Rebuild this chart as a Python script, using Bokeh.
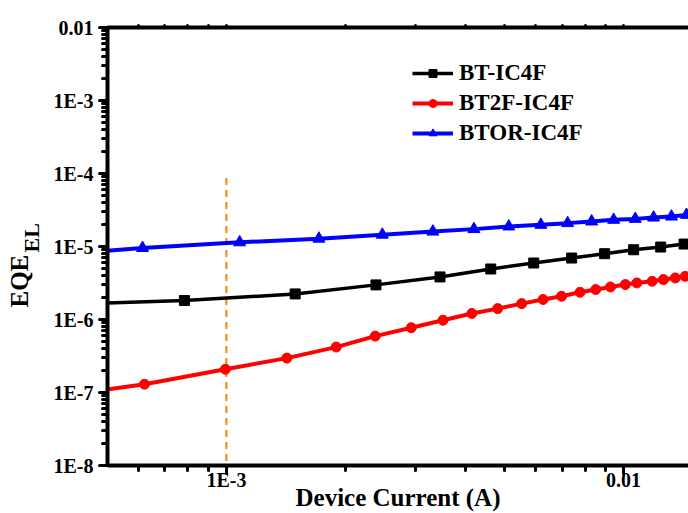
import math
from bokeh.plotting import figure
from bokeh.layouts import row
from bokeh.models import (LogAxis, FixedTicker, CustomJSTickFormatter, Label,
                          Legend, LegendItem, Range1d)
from bokeh.embed import file_html
from bokeh.resources import INLINE

# ---------------- data ----------------
bt_x = [3.9e-4, 7.84e-4, 1.49e-3, 2.38e-3, 3.45e-3, 4.63e-3, 5.94e-3, 7.40e-3,
        8.96e-3, 1.06e-2, 1.24e-2, 1.42e-2]
bt_y = [1.62e-6, 1.82e-6, 2.24e-6, 2.98e-6, 3.83e-6, 4.92e-6, 5.94e-6, 6.95e-6,
        7.96e-6, 9.03e-6, 9.83e-6, 1.08e-5]

bt2f_x = [4.32e-4, 6.22e-4, 9.94e-4, 1.42e-3, 1.89e-3, 2.37e-3, 2.92e-3, 3.51e-3,
          4.15e-3, 4.82e-3, 5.54e-3, 6.27e-3, 6.98e-3, 7.77e-3, 8.51e-3, 9.27e-3,
          1.01e-2, 1.08e-2, 1.18e-2, 1.26e-2, 1.35e-2, 1.43e-2]
bt2f_y = [9.8e-8, 1.30e-7, 2.08e-7, 2.96e-7, 4.19e-7, 5.92e-7, 7.71e-7, 9.78e-7,
          1.21e-6, 1.41e-6, 1.65e-6, 1.88e-6, 2.08e-6, 2.36e-6, 2.57e-6, 2.79e-6,
          3.01e-6, 3.17e-6, 3.34e-6, 3.52e-6, 3.71e-6, 3.90e-6]

btor_x = [3.85e-4, 6.15e-4, 1.08e-3, 1.71e-3, 2.47e-3, 3.31e-3, 4.20e-3, 5.14e-3,
          6.19e-3, 7.23e-3, 8.31e-3, 9.44e-3, 1.07e-2, 1.19e-2, 1.32e-2, 1.44e-2]
btor_y = [7.79e-6, 9.53e-6, 1.14e-5, 1.28e-5, 1.45e-5, 1.60e-5, 1.73e-5, 1.88e-5,
          1.98e-5, 2.09e-5, 2.20e-5, 2.32e-5, 2.39e-5, 2.49e-5, 2.57e-5, 2.71e-5]

series_names = ["BT-IC4F", "BT2F-IC4F", "BTOR-IC4F"]

guide_x = [1e-3, 1e-3]
guide_y = [8.7e-5, 1e-8]

x_ticks = [1e-3, 1e-2]
x_tick_labels = ["1E-3", "0.01"]
y_ticks = [1e-8, 1e-7, 1e-6, 1e-5, 1e-4, 1e-3, 1e-2]
y_tick_labels = ["1E-8", "1E-7", "1E-6", "1E-5", "1E-4", "1E-3", "0.01"]

x_title = "Device Current (A)"
y_title_main = "EQE"
y_title_sub = "EL"

x_lim = (5.02e-4, 1.457e-2)
y_lim = (1e-8, 1e-2)

# ---------------- figure ----------------
FONT = "Liberation Serif"
TITLE_W = 50

p = figure(width=688 - TITLE_W, height=513, x_axis_type="log", y_axis_type="log",
           x_range=Range1d(*x_lim), y_range=Range1d(*y_lim),
           output_backend="svg", toolbar_location=None,
           min_border_left=106 - TITLE_W, min_border_right=0, min_border_top=27,
           min_border_bottom=47)
p.outline_line_color = None
p.background_fill_color = "white"
p.border_fill_color = "white"
p.xgrid.visible = False
p.ygrid.visible = False


def minor_list(lo, hi):
    out = []
    for e in range(math.floor(math.log10(lo)) - 1, math.ceil(math.log10(hi)) + 1):
        for k in range(2, 10):
            out.append(k * 10.0 ** e)
    return out


def fmt(vals, labels):
    return CustomJSTickFormatter(args=dict(tvals=vals, tlabels=labels), code="""
        for (let i = 0; i < tvals.length; i++) {
            if (Math.abs(Math.log10(tvals[i]) - Math.log10(tick)) < 1e-6) return tlabels[i];
        }
        return " ";
    """)


def style_axis(ax):
    ax.axis_line_width = 4
    ax.axis_line_color = "black"
    ax.major_tick_line_width = 3
    ax.minor_tick_line_width = 3
    ax.major_tick_line_cap = "round"
    ax.minor_tick_line_cap = "round"
    ax.major_tick_in = 0
    ax.minor_tick_in = 0
    ax.major_tick_out = 8
    ax.minor_tick_out = 5
    ax.major_label_text_font = FONT
    ax.major_label_text_font_style = "bold"
    ax.major_label_text_font_size = "20px"
    ax.major_label_text_color = "black"


xa = p.xaxis[0]
xa.ticker = FixedTicker(ticks=x_ticks, minor_ticks=minor_list(*x_lim))
xa.formatter = fmt(x_ticks, x_tick_labels)
style_axis(xa)
xa.major_label_standoff = -5
xa.axis_label = x_title
xa.axis_label_text_font = FONT
xa.axis_label_text_font_style = "bold"
xa.axis_label_text_font_size = "25px"
xa.axis_label_text_color = "black"
xa.axis_label_standoff = -10

ya = p.yaxis[0]
ya.ticker = FixedTicker(ticks=y_ticks, minor_ticks=minor_list(*y_lim))
ya.formatter = fmt(y_ticks, y_tick_labels)
style_axis(ya)
ya.major_label_standoff = 6

top = LogAxis(ticker=FixedTicker(ticks=x_ticks, minor_ticks=minor_list(*x_lim)))
style_axis(top)
top.major_tick_out = 2
top.minor_tick_out = 2
top.major_label_text_font_size = "2px"
top.major_label_text_alpha = 0
top.major_label_standoff = 0
p.add_layout(top, "above")

# guide line
p.line(guide_x, guide_y, line_color="#FF8000", line_width=2, line_dash="7 5")

# series
r1l = p.line(bt_x, bt_y, line_color="black", line_width=3.5)
r1m = p.scatter(bt_x, bt_y, marker="square", size=10, fill_color="black",
                line_color="black")
r2l = p.line(bt2f_x, bt2f_y, line_color="#FF0000", line_width=4)
r2m = p.scatter(bt2f_x, bt2f_y, marker="circle", size=10, fill_color="#FF0000",
                line_color="#FF0000")
r3l = p.line(btor_x, btor_y, line_color="#0000FF", line_width=4)
r3m = p.scatter(btor_x, btor_y, marker="triangle", size=12, fill_color="#0000FF",
                line_color="#0000FF")

legend = Legend(items=[
    LegendItem(label=series_names[0], renderers=[r1l, r1m]),
    LegendItem(label=series_names[1], renderers=[r2l, r2m]),
    LegendItem(label=series_names[2], renderers=[r3l, r3m]),
], location=(305, 317))
legend.border_line_color = None
legend.background_fill_alpha = 0
legend.padding = 0
legend.margin = 0
legend.spacing = 0
legend.glyph_width = 41
legend.glyph_height = 20
legend.label_height = 30
legend.label_standoff = 6
legend.label_text_font = FONT
legend.label_text_font_style = "bold"
legend.label_text_font_size = "23px"
legend.label_text_color = "black"
p.add_layout(legend)

# ---------------- y-axis title strip (EQE with subscript EL) ----------------
# (its frame is aligned with the main plot's frame by the row layout)
t = figure(width=TITLE_W, height=513, x_range=Range1d(0, 1), y_range=Range1d(0, 1),
           x_axis_location=None, y_axis_location=None,
           output_backend="svg", toolbar_location=None,
           min_border_left=0, min_border_right=0, min_border_top=0,
           min_border_bottom=0)
t.outline_line_color = None
t.xgrid.visible = False
t.ygrid.visible = False
t.background_fill_color = "white"
t.border_fill_color = "white"
t.add_layout(Label(x=19, y=158, x_units="screen", y_units="screen", text=y_title_main,
                   angle=math.pi / 2, text_align="left", text_baseline="alphabetic",
                   text_font=FONT, text_font_style="bold", text_font_size="25px",
                   text_color="black"))
t.add_layout(Label(x=31, y=213, x_units="screen", y_units="screen", text=y_title_sub,
                   angle=math.pi / 2, text_align="left", text_baseline="alphabetic",
                   text_font=FONT, text_font_style="bold", text_font_size="22px",
                   text_color="black"))

layout = row(t, p, spacing=0)
open("out.html", "w").write(file_html(layout, INLINE))
